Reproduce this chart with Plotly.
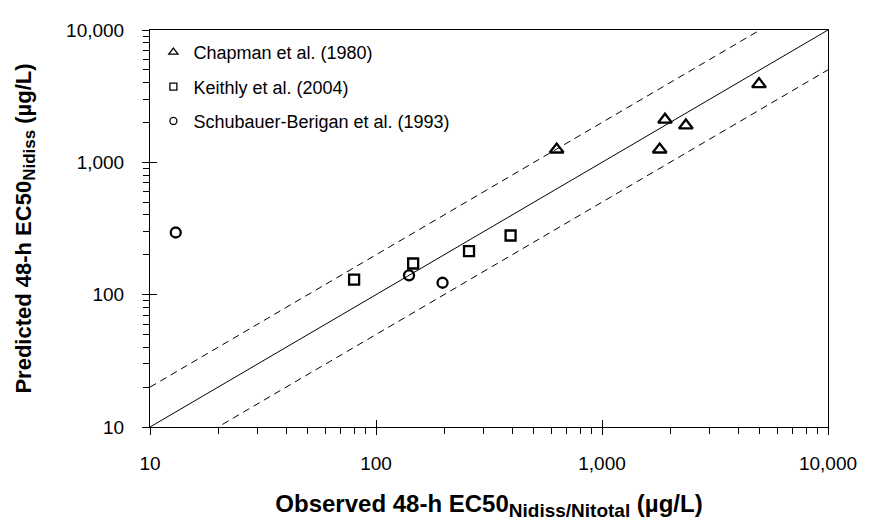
import plotly.graph_objects as go

# ---- data ----
chapman_obs = [630, 1800, 1900, 2350, 4950]
chapman_pred = [1250, 1250, 2100, 1900, 3900]

keithly_obs = [80, 146, 258, 394]
keithly_pred = [130, 172, 213, 280]

schub_obs = [13, 140, 197]
schub_pred = [295, 140, 123]

line_x = [10, 10000]
one_to_one = [v for v in line_x]
upper_factor = 2.0
lower_factor = 0.5

major_vals = [10, 100, 1000, 10000]
major_text = ["10", "100", "1,000", "10,000"]
minor_vals = [m * 10 ** e for e in range(1, 4) for m in range(2, 10)]

FONT = "Liberation Sans, Arial, sans-serif"

fig = go.Figure()

# reference lines
fig.add_trace(go.Scatter(x=line_x, y=one_to_one, mode="lines",
                         line=dict(color="black", width=1), showlegend=False, hoverinfo="skip"))
fig.add_trace(go.Scatter(x=line_x, y=[v * upper_factor for v in line_x], mode="lines",
                         line=dict(color="black", width=1, dash="7px,5px"), showlegend=False, hoverinfo="skip"))
fig.add_trace(go.Scatter(x=line_x, y=[v * lower_factor for v in line_x], mode="lines",
                         line=dict(color="black", width=1, dash="7px,5px"), showlegend=False, hoverinfo="skip"))

series = [
    ("Chapman et al. (1980)", chapman_obs, chapman_pred, "triangle-up-open", 12),
    ("Keithly et al. (2004)", keithly_obs, keithly_pred, "square-open", 10),
    ("Schubauer-Berigan et al. (1993)", schub_obs, schub_pred, "circle-open", 10),
]
for i, (name, xs, ys, sym, sz) in enumerate(series):
    fig.add_trace(go.Scatter(x=xs, y=ys, mode="markers", name=name, showlegend=False,
                             marker=dict(symbol=sym, size=sz, color="black",
                                         line=dict(color="black", width=2.3))))
    # legend-only entry with smaller symbol
    fig.add_trace(go.Scatter(x=[None], y=[None], mode="markers", name=name, legendgroup=f"g{i}",
                             marker=dict(symbol=sym, size=8 if "tri" in sym else 7, color="black",
                                         line=dict(color="black", width=1.3))))

axis_common = dict(type="log", showgrid=False, zeroline=False, showline=True,
                   linecolor="black", linewidth=1, mirror=True,
                   tickvals=major_vals, ticktext=major_text,
                   ticks="outside", ticklen=7, tickwidth=1, tickcolor="black",
                   tickfont=dict(family=FONT, size=19, color="black"),
                   minor=dict(tickvals=minor_vals, ticks="outside", ticklen=6,
                              tickwidth=1, tickcolor="black", showgrid=False),
                   range=[1, 4])

x_title = ('<b>Observed 48-h EC50<sub><span style="font-size:19px">Nidiss/Nitotal</span></sub>'
           ' (µg/L)</b>')
y_title = ('<b>Predicted 48-h EC50<sub><span style="font-size:17px">Nidiss</span></sub>'
           ' (µg/L)</b>')

fig.update_layout(
    width=870, height=527,
    margin=dict(l=142, r=50, t=19, b=108),
    paper_bgcolor="white", plot_bgcolor="white",
    font=dict(family=FONT, color="black"),
    xaxis=dict(**axis_common, ticklabelstandoff=12,
               title=dict(text=x_title, font=dict(family=FONT, size=24, color="black"), standoff=22)),
    yaxis=dict(**axis_common, ticklabelstandoff=14,
               title=dict(text=y_title, font=dict(family=FONT, size=22, color="black"), standoff=28)),
    # overlay axes providing the inside half of the crossing major ticks
    xaxis2=dict(type="log", range=[1, 4], overlaying="x", anchor="y", side="bottom",
                tickvals=major_vals, ticks="inside", ticklen=7, tickcolor="black",
                showticklabels=False, showgrid=False, zeroline=False, showline=False),
    yaxis2=dict(type="log", range=[1, 4], overlaying="y", anchor="x", side="left",
                tickvals=major_vals, ticks="inside", ticklen=7, tickcolor="black",
                showticklabels=False, showgrid=False, zeroline=False, showline=False),
    legend=dict(x=0.005, y=0.99, xanchor="left", yanchor="top",
                bgcolor="rgba(0,0,0,0)", borderwidth=0,
                font=dict(family=FONT, size=18, color="black"),
                tracegroupgap=8, itemwidth=30),
)

# invisible trace on the overlay axes so they are drawn
fig.add_trace(go.Scatter(x=[None], y=[None], xaxis="x2", yaxis="y2", showlegend=False, hoverinfo="skip"))

fig.write_html("out.html")
